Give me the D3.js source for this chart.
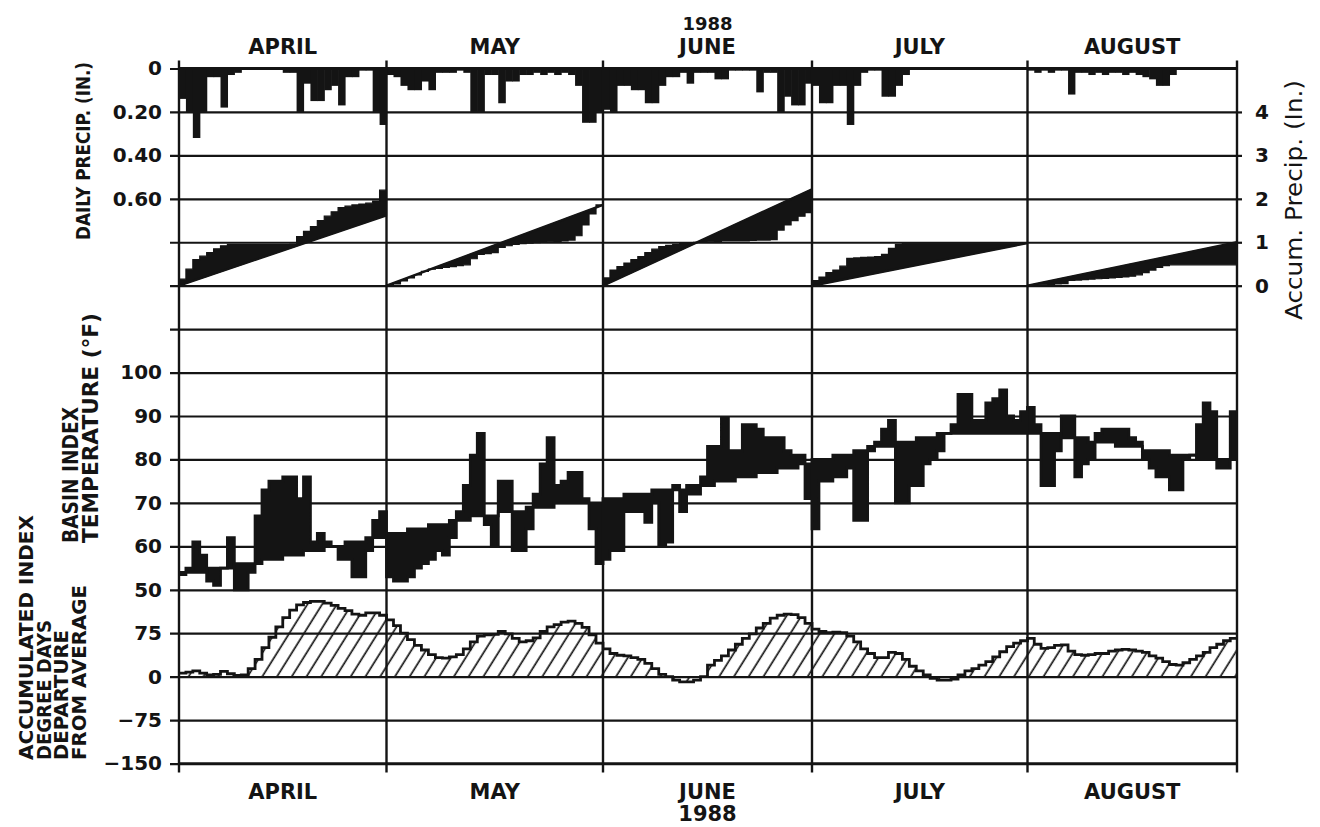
<!DOCTYPE html>
<html>
<head>
<meta charset="utf-8">
<script src="https://cdn.jsdelivr.net/npm/d3@7"></script>
<style>
  html, body { margin: 0; padding: 0; background: #fff; }
  svg { display: block; }
</style>
</head>
<body>
<svg id="chart" width="1320" height="827"></svg>
<script>
// ---- Months (1988 season) ----
const year = "1988";
const monthNames = ["APRIL", "MAY", "JUNE", "JULY", "AUGUST"];
const monthDays = [30, 31, 30, 31, 31];

// ---- Daily precipitation (in.) ----
const precipApr = [0.14,0.20,0.32,0.20,0.04,0.04,0.18,0.03,0.02,0,0,0,0,0,0,0.02,0.02,0.20,0.07,0.15,0.15,0.10,0.08,0.17,0.04,0.04,0.01,0.01,0.20,0.26];
const precipMay = [0.03,0.04,0.08,0.10,0.10,0.06,0.10,0.02,0.02,0.02,0.01,0.02,0.20,0.20,0.03,0.03,0.16,0.06,0.06,0.03,0.03,0.02,0.03,0.02,0.03,0.02,0.03,0.08,0.25,0.25,0.20];
const precipJun = [0.19,0.20,0.08,0.08,0.10,0.10,0.16,0.16,0.08,0.04,0.04,0.02,0.07,0.02,0.02,0.02,0.05,0.05,0.01,0.01,0.01,0.01,0.11,0.02,0.02,0.20,0.13,0.17,0.17,0.07];
const precipJul = [0.08,0.16,0.16,0.08,0.08,0.26,0.08,0.02,0.01,0.01,0.13,0.13,0.08,0.03,0,0,0,0,0,0,0,0,0,0,0,0,0,0,0,0,0];
const precipAug = [0.01,0.02,0.01,0.02,0.01,0.01,0.12,0.02,0.02,0.03,0.02,0.03,0.02,0.02,0.03,0.02,0.03,0.04,0.05,0.08,0.08,0.03,0,0,0,0,0,0,0,0,0];

// ---- Accumulated precipitation within each month (in.), end of day ----
const accumApr = [0.15,0.38,0.60,0.68,0.76,0.85,0.92,0.95,0.95,0.95,0.95,0.95,0.95,0.95,0.95,0.95,0.96,1.13,1.25,1.36,1.50,1.60,1.70,1.80,1.83,1.86,1.88,1.90,1.95,2.20];
const accumMay = [0.02,0.04,0.11,0.18,0.25,0.33,0.38,0.40,0.42,0.44,0.46,0.48,0.62,0.72,0.74,0.76,0.88,0.92,0.95,0.97,0.98,0.99,1.00,1.01,1.02,1.03,1.05,1.15,1.40,1.65,1.86];
const accumJun = [0.18,0.36,0.44,0.52,0.60,0.67,0.76,0.84,0.90,0.93,0.95,0.97,0.99,1.00,1.00,1.01,1.02,1.03,1.03,1.03,1.03,1.04,1.05,1.05,1.06,1.28,1.40,1.50,1.60,1.68];
const accumJul = [0.12,0.20,0.30,0.36,0.45,0.63,0.64,0.65,0.66,0.67,0.72,0.86,0.95,0.98,0.98,0.98,0.98,0.98,0.98,0.98,0.98,0.98,0.98,0.98,0.98,0.98,0.98,0.98,0.98,0.98,0.98];
const accumAug = [0.01,0.02,0.02,0.03,0.04,0.05,0.12,0.13,0.14,0.15,0.16,0.17,0.18,0.19,0.20,0.22,0.25,0.30,0.36,0.42,0.46,0.48,0.48,0.48,0.48,0.48,0.48,0.48,0.48,0.48,0.48];
// Normal monthly totals (in.)
const accumNormal = [1.62, 1.86, 2.22, 0.98, 1.00];

// ---- Basin index temperature (°F): daily actual and normal ----
const tempApr = [53.5,55,61,58,52,51,55,62,50,50,54,67,73,75,75,76,76,71,76,61,63,61,60,57,57,53,53,59,66,68];
const tempMay = [53,52,52,53,55,56,57,59,58,62,68,74,81,86,65,60,75,75,59,59,64,72,79,85,74,75,77,77,71,64,56];
const tempJun = [57,59,59,68,68,68,65.5,70,60,61,74,68,72,72,76,83,83,89.5,82,82,88,88,87,85,85,85,82,81,81,71];
const tempJul = [64,75,75,76,76,78,66,66,83,84,87,89,70,70,74,74,79,80,82,86,88,95,95,89,89,93,94,96,90,89,91];
const tempAug = [92,88,74,74,82,90,90,76,79,80,86,87,87,87,87,85,84,80,78,76,76,73,73,80,81,88,93,91,78,78,91];
const normApr = [54,54,54,54,55,55,55,55,56,56,56,56,57,57,57,58,58,58,59,59,59,60,60,60,61,61,61,62,62,62];
const normMay = [63,63,63,64,64,64,65,65,65,66,66,66,67,67,67,67,68,68,68,68,69,69,69,69,70,70,70,70,70,70,70];
const normJun = [71,71,71,72,72,72,72,73,73,73,73,73,74,74,74,74,75,75,75,76,76,76,77,77,77,78,78,78,79,79];
const normJul = [80,80,80,81,81,81,82,82,82,83,83,83,84,84,84,85,85,85,86,86,86,86,86,86,86,86,86,86,86,86,86];
const normAug = [86,86,86,86,86,85,85,85,85,84,84,84,84,83,83,83,83,82,82,82,82,81,81,81,81,80,80,80,80,80,80];

// ---- Accumulated index degree days, departure from average ----
const ddApr = [6,8,10,6,3,4,9,5,2,3,14,30,50,68,86,102,115,124,128,130,130,127,123,118,114,108,106,110,110,106];
const ddMay = [98,88,75,64,54,46,38,33,32,34,38,48,60,70,72,73,78,74,66,60,62,67,78,86,90,94,96,92,85,72,58];
const ddJun = [48,40,37,36,33,30,23,14,4,0,-6,-9,-9,-6,0,20,28,36,46,56,66,74,84,92,101,106,108,107,102,92];
const ddJul = [82,78,76,77,76,70,60,48,40,33,33,42,40,30,18,10,3,-3,-6,-6,-4,3,10,14,20,26,34,43,52,58,62];
const ddAug = [66,56,49,50,54,55,44,38,37,38,40,40,44,46,47,46,44,42,36,32,26,21,20,24,30,36,42,50,56,62,66];

// ---- Axis ticks ----
const precipTicks = [0, 0.2, 0.4, 0.6];
const accumTicks = [0, 1, 2, 3, 4];
const tempTicks = [50, 60, 70, 80, 90, 100, 110];
const ddTicks = [-150, -75, 0, 75];

// ---------------------------------------------------------------
const ink = "#141414";
const sans = "'DejaVu Sans', Verdana, sans-serif";
const svg = d3.select("#chart");

const X0 = 179, X1 = 1237;
const TOP = 68.5, STEP = 43.44;           // 16 equal bands between top and bottom rule
const BOTTOM = TOP + 16 * STEP;

const monthStarts = d3.cumsum([0, ...monthDays]);   // day offsets 0,30,61,91,122,153
const nDays = monthStarts[monthStarts.length - 1];
const x = d3.scaleLinear().domain(Array.from(monthStarts)).range([X0, 386.5, 603, 812, 1027.5, X1]);

const yPrecip = d3.scaleLinear().domain([0, 0.2]).range([TOP, TOP + STEP]);
const yAccum  = d3.scaleLinear().domain([0, 1]).range([TOP + 5 * STEP, TOP + 4 * STEP]);
const yTemp   = d3.scaleLinear().domain([50, 60]).range([TOP + 12 * STEP, TOP + 11 * STEP]);
const yDD     = d3.scaleLinear().domain([0, 75]).range([TOP + 14 * STEP, TOP + 13 * STEP]);

// hatch used under the degree-day curve
const defs = svg.append("defs");
defs.append("pattern")
  .attr("id", "hatch").attr("patternUnits", "userSpaceOnUse")
  .attr("width", 12.5).attr("height", 12.5).attr("patternTransform", "rotate(32)")
  .append("line").attr("x1", 6).attr("y1", -1).attr("x2", 6).attr("y2", 14)
  .attr("stroke", ink).attr("stroke-width", 1.7);

// ---- grid + left axes ----
function leftAxis(scale, values, fmt) {
  const g = svg.append("g").attr("transform", `translate(${X0},0)`)
    .call(d3.axisLeft(scale).tickValues(values).tickFormat(fmt)
      .tickSizeInner(-(X1 - X0)).tickSizeOuter(0).tickPadding(17));
  g.select(".domain").remove();
  g.selectAll(".tick line").attr("x1", -9).attr("stroke", ink).attr("stroke-width", 2.2);
  g.selectAll(".tick text").attr("fill", ink).attr("font-family", sans)
    .attr("font-weight", "bold").attr("font-size", 20);
  return g;
}
leftAxis(yPrecip, precipTicks, d => d === 0 ? "0" : d3.format(".2f")(d));
leftAxis(yAccum, [0, 1], () => "");
leftAxis(yTemp, tempTicks, d => d === 110 ? "" : d);
leftAxis(yDD, ddTicks, d3.format("d"));

// right axis: accumulated precipitation
const ra = svg.append("g").attr("transform", `translate(${X1},0)`)
  .call(d3.axisRight(yAccum).tickValues(accumTicks).tickSize(5).tickFormat(d3.format("d")));
ra.select(".domain").remove();
ra.selectAll(".tick line").attr("stroke", ink).attr("stroke-width", 2.2);
ra.selectAll(".tick text").attr("x", 25).attr("text-anchor", "middle").attr("fill", ink)
  .attr("font-family", sans).attr("font-weight", "bold").attr("font-size", 20);

// ---- daily precipitation bars hanging from the top rule ----
const days = d3.merge([precipApr, precipMay, precipJun, precipJul, precipAug])
  .map((v, i) => ({ d: i, v }));
svg.append("g").selectAll("rect")
  .data(days.filter(p => p.v > 0))
  .join("rect")
  .attr("x", p => x(p.d))
  .attr("width", p => x(p.d + 1) - x(p.d) + 0.6)
  .attr("y", yPrecip(0))
  .attr("height", p => yPrecip(p.v) - yPrecip(0))
  .attr("fill", ink);

// ---- accumulated precipitation: actual (stepped) vs normal (straight) ----
const accumMonths = [accumApr, accumMay, accumJun, accumJul, accumAug];
const accG = svg.append("g");
accumMonths.forEach((acc, m) => {
  const s = monthStarts[m], L = monthDays[m], N = accumNormal[m];
  const normalAt = t => N * (t - s) / L;
  const pts = [];
  acc.forEach((a, i) => {
    pts.push({ t: s + i, a }, { t: s + i + 1, a });
  });
  accG.append("path")
    .attr("d", d3.area().x(p => x(p.t)).y0(p => yAccum(normalAt(p.t))).y1(p => yAccum(p.a))(pts))
    .attr("fill", ink).attr("stroke", ink).attr("stroke-width", 1.2);
  accG.append("line")
    .attr("x1", x(s)).attr("y1", yAccum(0)).attr("x2", x(s + L)).attr("y2", yAccum(N))
    .attr("stroke", ink).attr("stroke-width", 2.4);
});

// ---- temperature: band between daily actual and normal ----
const tAll = d3.merge([tempApr, tempMay, tempJun, tempJul, tempAug]);
const nAll = d3.merge([normApr, normMay, normJun, normJul, normAug]);
const tPts = tAll.map((t, i) => ({ d: i, t, n: nAll[i] }));
tPts.push({ d: nDays, t: tAll[nDays - 1], n: nAll[nDays - 1] });
svg.append("path")
  .attr("d", d3.area().curve(d3.curveStepAfter)
    .x(p => x(p.d)).y0(p => yTemp(p.n)).y1(p => yTemp(p.t))(tPts))
  .attr("fill", ink);
[p => yTemp(p.t), p => yTemp(p.n)].forEach(fy => {
  svg.append("path")
    .attr("d", d3.line().curve(d3.curveStepAfter).x(p => x(p.d)).y(fy)(tPts))
    .attr("fill", "none").attr("stroke", ink).attr("stroke-width", 2.8);
});

// ---- degree-day departure: hatched area with outline ----
const dd = d3.merge([ddApr, ddMay, ddJun, ddJul, ddAug]).map((v, i) => ({ d: i, v }));
dd.push({ d: nDays, v: dd[nDays - 1].v });
svg.append("path")
  .attr("d", d3.area().curve(d3.curveStepAfter).x(p => x(p.d)).y0(yDD(0)).y1(p => yDD(p.v))(dd))
  .attr("fill", "url(#hatch)");
svg.append("path")
  .attr("d", d3.line().curve(d3.curveStepAfter).x(p => x(p.d)).y(p => yDD(p.v))(dd))
  .attr("fill", "none").attr("stroke", ink).attr("stroke-width", 2.8);

// ---- frame: top/bottom rules, month dividers with outer ticks ----
[TOP, BOTTOM].forEach(yv => {
  svg.append("line").attr("x1", X0).attr("x2", X1).attr("y1", yv).attr("y2", yv)
    .attr("stroke", ink).attr("stroke-width", 2.8);
});
svg.append("g").selectAll("line").data(monthStarts).join("line")
  .attr("x1", d => x(d)).attr("x2", d => x(d))
  .attr("y1", TOP - 8).attr("y2", BOTTOM + 9)
  .attr("stroke", ink).attr("stroke-width", 2.4);

// ---- month labels ----
const mid = i => x((monthStarts[i] + monthStarts[i + 1]) / 2);
const labelStyle = sel => sel.attr("text-anchor", "middle").attr("fill", ink)
  .attr("font-family", sans).attr("font-weight", "bold").attr("font-size", 21);
svg.append("g").selectAll("text").data(monthNames).join("text")
  .attr("x", (d, i) => mid(i)).attr("y", 54).text(d => d).call(labelStyle);
svg.append("g").selectAll("text").data(monthNames).join("text")
  .attr("x", (d, i) => mid(i)).attr("y", 799).text(d => d).call(labelStyle);
svg.append("text").attr("x", mid(2)).attr("y", 30).text(year).call(labelStyle).attr("font-size", 18);
svg.append("text").attr("x", mid(2)).attr("y", 821).text(year).call(labelStyle);

// ---- axis titles (rotated) ----
function vTitle(text, xb, ystart, len, size, weight) {
  svg.append("text")
    .attr("transform", `translate(${xb},${ystart}) rotate(-90)`)
    .attr("text-anchor", "start").attr("fill", ink)
    .attr("font-family", sans).attr("font-size", size).attr("font-weight", weight || "normal")
    .attr("textLength", len).attr("lengthAdjust", "spacingAndGlyphs")
    .text(text);
}
vTitle("DAILY PRECIP. (IN.)", 90, 240, 178, 20, "bold");
vTitle("Accum. Precip. (In.)", 1302, 320, 240, 23);
vTitle("BASIN INDEX", 78, 543, 136, 21, "bold");
vTitle("TEMPERATURE (°F)", 98, 543, 230, 21, "bold");
vTitle("ACCUMULATED INDEX", 33, 760, 245, 20, "bold");
vTitle("DEGREE DAYS", 51, 760, 140, 20, "bold");
vTitle("DEPARTURE", 68, 760, 130, 20, "bold");
vTitle("FROM AVERAGE", 86, 760, 175, 20, "bold");
</script>
</body>
</html>
